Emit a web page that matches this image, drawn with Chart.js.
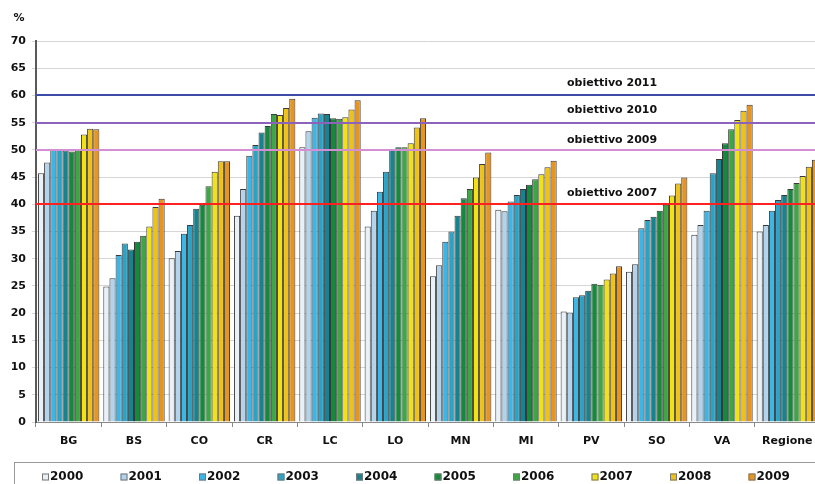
<!DOCTYPE html>
<html><head><meta charset="utf-8">
<script src="https://cdn.jsdelivr.net/npm/chart.js@4"></script>
<style>
html,body{margin:0;padding:0;background:#fff;overflow:hidden;width:815px;height:484px}
#wrap{width:822px;height:484px}
</style>
</head><body><div id="wrap"><canvas id="c" width="822" height="484"></canvas></div>
<script>
const categories = ['BG','BS','CO','CR','LC','LO','MN','MI','PV','SO','VA','Regione'];
const years = ['2000','2001','2002','2003','2004','2005','2006','2007','2008','2009'];
const v2000 = [45.7,24.9,30.1,37.9,50.5,35.9,26.8,39.0,20.3,27.6,34.4,35.0];
const v2001 = [47.7,26.4,31.4,42.8,53.4,38.8,28.8,38.7,20.1,29.0,36.2,36.2];
const v2002 = [50.1,30.7,34.6,48.9,55.9,42.3,33.1,40.5,22.9,35.6,38.8,38.8];
const v2003 = [50.0,32.8,36.2,50.9,56.7,46.0,35.0,41.7,23.3,37.1,45.7,40.8];
const v2004 = [49.9,31.7,39.2,53.2,56.6,50.0,37.9,42.8,24.1,37.7,48.3,41.7];
const v2005 = [49.7,33.1,39.9,54.4,55.8,50.5,41.1,43.6,25.4,38.8,51.2,42.8];
const v2006 = [50.0,34.2,43.3,56.6,55.7,50.5,42.8,44.6,25.2,39.9,53.8,43.9];
const v2007 = [52.8,35.9,46.0,56.4,56.0,51.2,44.9,45.5,26.2,41.6,55.5,45.2];
const v2008 = [53.9,39.5,47.9,57.7,57.4,54.1,47.4,46.8,27.3,43.8,57.2,46.9];
const v2009 = [53.8,41.0,47.9,59.4,59.1,55.8,49.5,48.0,28.6,44.9,58.3,48.2];
const seriesValues = [v2000,v2001,v2002,v2003,v2004,v2005,v2006,v2007,v2008,v2009];
const targets = [60,55,50,40];
const targetLabels = ['obiettivo 2011','obiettivo 2010','obiettivo 2009','obiettivo 2007'];
const yTicks = [0,5,10,15,20,25,30,35,40,45,50,55,60,65,70];

const colors = ['#e8f0f8','#b2d3ec','#3cb6e6','#2ba3c6','#16838f','#148a3c','#3da843','#f3e213','#f1c214','#e8951f'];
const targetColors = ['#3d4ba8','#8c62bb','#d48fd4','#ff2020'];
const labelOffsets = [12,13,10,11];
const FONT = '"DejaVu Sans", sans-serif';

const overlay = {
  id: 'overlay',
  afterDatasetsDraw(chart) {
    const {ctx, chartArea: a, scales: {y}} = chart;
    ctx.save();
    targets.forEach((t, i) => {
      const py = Math.round(y.getPixelForValue(t));
      ctx.strokeStyle = targetColors[i];
      ctx.lineWidth = 2;
      ctx.beginPath(); ctx.moveTo(a.left, py); ctx.lineTo(a.right + 10, py); ctx.stroke();
      ctx.fillStyle = '#111';
      ctx.font = 'bold 11px ' + FONT;
      ctx.textAlign = 'left'; ctx.textBaseline = 'middle';
      ctx.fillText(targetLabels[i], 567, py - labelOffsets[i]);
    });
    ctx.restore();
  },
  afterDraw(chart) {
    const ctx = chart.ctx;
    ctx.save();
    ctx.fillStyle = '#111';
    ctx.font = 'bold 11px ' + FONT;
    ctx.textAlign = 'center'; ctx.textBaseline = 'middle';
    ctx.fillText('%', 19, 18);
    ctx.strokeStyle = '#9a9a9a'; ctx.lineWidth = 1;
    ctx.strokeRect(14.5, 462.5, 900, 100);
    chart.data.datasets.forEach((ds, i) => {
      const x = 42 + i * 78.5;
      const yc = 477;
      ctx.fillStyle = ds.backgroundColor;
      ctx.fillRect(x, yc - 3.5, 7, 7);
      ctx.strokeStyle = '#777';
      ctx.strokeRect(x + 0.5, yc - 3.5 + 0.5, 6, 6);
      ctx.fillStyle = '#111';
      ctx.font = 'bold 12px ' + FONT;
      ctx.textAlign = 'left';
      ctx.fillText(ds.label, x + 8, yc);
    });
    ctx.restore();
  }
};

new Chart(document.getElementById('c'), {
  type: 'bar',
  data: {
    labels: categories,
    datasets: years.map((yr, i) => ({
      label: yr,
      data: seriesValues[i],
      backgroundColor: colors[i],
      borderColor: '#3a3a3a',
      borderWidth: 1,
      categoryPercentage: 0.94,
      barPercentage: 1.0
    }))
  },
  options: {
    responsive: false,
    animation: false,
    layout: {padding: {top: 41, left: 0, right: 2, bottom: 32}},
    plugins: {legend: {display: false}, tooltip: {enabled: false}},
    scales: {
      x: {
        afterFit: s => { s.height = 30; },
        grid: {display: true, drawOnChartArea: false, offset: true, tickLength: 5, color: '#888'},
        border: {color: '#8a8a8a', width: 1},
        ticks: {color: '#111', font: {family: FONT, size: 11, weight: 'bold'}, padding: 8}
      },
      y: {
        min: 0, max: 70,
        afterFit: s => { s.width = 36; },
        afterBuildTicks: s => { s.ticks = yTicks.map(v => ({value: v})); },
        grid: {color: '#d6d6d6', tickLength: 4},
        border: {color: '#5a5a5a', width: 2},
        ticks: {color: '#111', font: {family: FONT, size: 11, weight: 'bold'}, padding: 6}
      }
    }
  },
  plugins: [overlay]
});
</script>
</body></html>
